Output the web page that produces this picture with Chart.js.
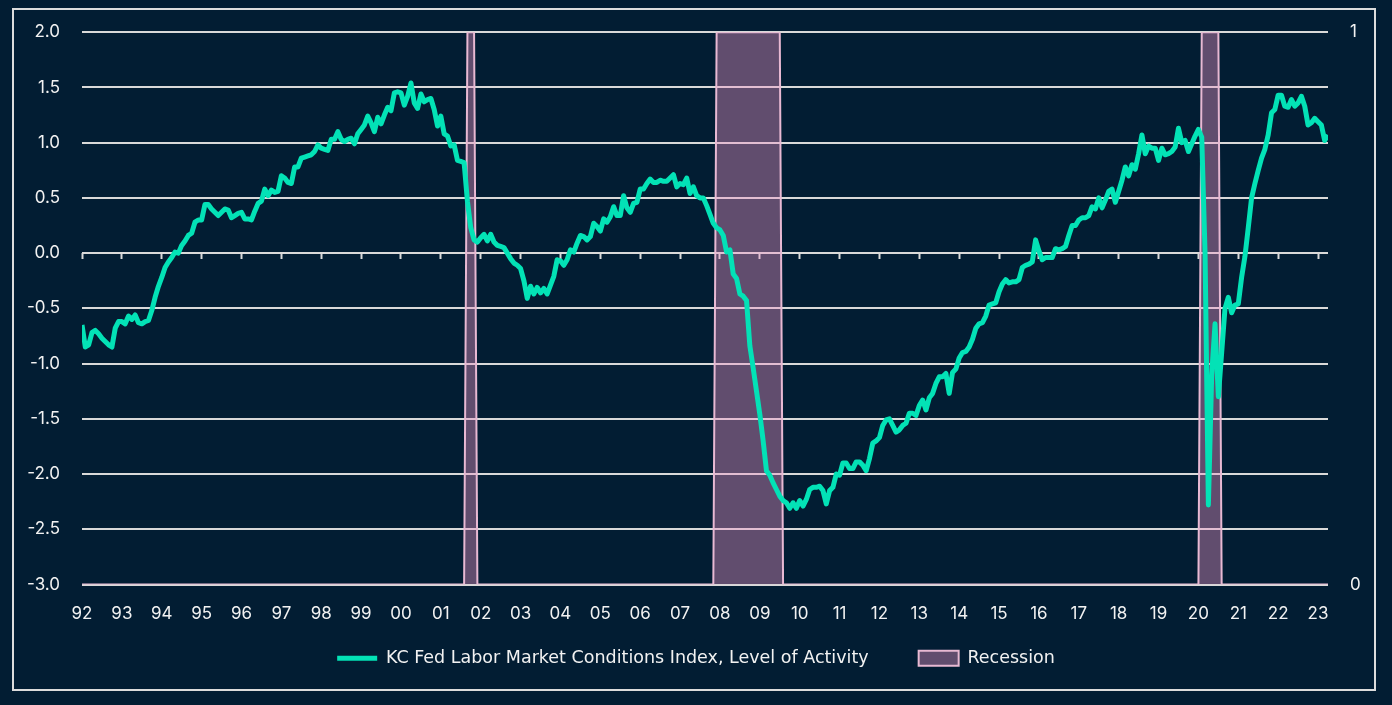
<!DOCTYPE html>
<html>
<head>
<meta charset="utf-8">
<script src="https://cdn.jsdelivr.net/npm/chart.js@4.4.1/dist/chart.umd.min.js"></script>
<style>
  html, body { margin: 0; padding: 0; background: #021d33; }
  #frame {
    position: absolute; left: 12px; top: 8px; width: 1360px; height: 679px;
    border: 2px solid #dcdcdc;
  }
  #wrap { position: absolute; left: 0; top: 0; width: 1392px; height: 705px; }
</style>
</head>
<body>
<div id="frame"></div>
<div id="wrap"><canvas id="lmciChart" width="1392" height="705"></canvas></div>
<script>
// 月次データ: 1992年1月から2023年4月まで
const startYear = 1992;
const lmciValues = [
  -0.65, -0.85, -0.83, -0.72, -0.70, -0.73, -0.77, -0.80, -0.83, -0.85, -0.68, -0.62, // 1992
  -0.62, -0.64, -0.57, -0.60, -0.56, -0.63, -0.64, -0.62, -0.61, -0.52, -0.40, -0.30, // 1993
  -0.22, -0.13, -0.08, -0.04, 0.01, 0.00, 0.07, 0.11, 0.16, 0.18, 0.28, 0.30,         // 1994
  0.30, 0.44, 0.44, 0.40, 0.37, 0.34, 0.37, 0.40, 0.39, 0.32, 0.34, 0.36,             // 1995
  0.37, 0.31, 0.31, 0.30, 0.38, 0.45, 0.47, 0.58, 0.52, 0.57, 0.55, 0.56,             // 1996
  0.70, 0.68, 0.64, 0.63, 0.78, 0.78, 0.86, 0.87, 0.88, 0.89, 0.92, 0.98,             // 1997
  0.95, 0.94, 0.93, 1.03, 1.03, 1.10, 1.03, 1.01, 1.03, 1.04, 0.99, 1.08,             // 1998
  1.12, 1.16, 1.24, 1.18, 1.10, 1.23, 1.17, 1.25, 1.32, 1.29, 1.45, 1.46,             // 1999
  1.45, 1.34, 1.42, 1.54, 1.36, 1.31, 1.44, 1.37, 1.39, 1.40, 1.30, 1.15,             // 2000
  1.24, 1.08, 1.06, 0.97, 0.98, 0.84, 0.83, 0.82, 0.47, 0.23, 0.12, 0.10,             // 2001
  0.14, 0.17, 0.11, 0.17, 0.10, 0.07, 0.06, 0.05, 0.00, -0.05, -0.09, -0.11,          // 2002
  -0.14, -0.25, -0.41, -0.30, -0.37, -0.31, -0.36, -0.32, -0.37, -0.29, -0.21, -0.06, // 2003
  -0.07, -0.11, -0.06, 0.03, 0.01, 0.09, 0.16, 0.15, 0.12, 0.15, 0.27, 0.24,          // 2004
  0.20, 0.31, 0.28, 0.33, 0.42, 0.34, 0.34, 0.52, 0.41, 0.37, 0.45, 0.46,             // 2005
  0.58, 0.58, 0.63, 0.67, 0.64, 0.64, 0.66, 0.65, 0.65, 0.68, 0.71, 0.60,             // 2006
  0.63, 0.62, 0.68, 0.54, 0.60, 0.52, 0.50, 0.50, 0.43, 0.35, 0.27, 0.23,             // 2007
  0.21, 0.16, 0.01, 0.03, -0.19, -0.23, -0.37, -0.39, -0.43, -0.84, -1.04, -1.25,     // 2008
  -1.46, -1.70, -1.97, -2.01, -2.08, -2.14, -2.20, -2.24, -2.26, -2.31, -2.26, -2.31, // 2009
  -2.24, -2.29, -2.23, -2.14, -2.12, -2.12, -2.11, -2.15, -2.27, -2.15, -2.12, -2.00, // 2010
  -2.01, -1.90, -1.90, -1.95, -1.95, -1.89, -1.89, -1.92, -1.97, -1.86, -1.72, -1.70, // 2011
  -1.67, -1.56, -1.51, -1.50, -1.56, -1.62, -1.60, -1.56, -1.54, -1.45, -1.45, -1.47, // 2012
  -1.38, -1.33, -1.42, -1.31, -1.27, -1.18, -1.12, -1.12, -1.09, -1.27, -1.08, -1.05, // 2013
  -0.95, -0.90, -0.89, -0.85, -0.78, -0.68, -0.64, -0.63, -0.57, -0.47, -0.46, -0.45, // 2014
  -0.35, -0.28, -0.24, -0.27, -0.26, -0.26, -0.24, -0.13, -0.11, -0.10, -0.08, 0.12,  // 2015
  0.02, -0.06, -0.04, -0.04, -0.04, 0.04, 0.03, 0.04, 0.06, 0.16, 0.25, 0.25,         // 2016
  0.30, 0.32, 0.32, 0.34, 0.42, 0.40, 0.50, 0.41, 0.48, 0.56, 0.58, 0.46,             // 2017
  0.56, 0.66, 0.78, 0.70, 0.80, 0.76, 0.90, 1.07, 0.90, 0.97, 0.95, 0.95,             // 2018
  0.84, 0.95, 0.89, 0.90, 0.92, 0.96, 1.13, 1.00, 1.02, 0.92, 0.99, 1.06,             // 2019
  1.12, 1.05, 0.00, -2.28, -1.10, -0.64, -1.30, -0.90, -0.50, -0.40, -0.54, -0.47,    // 2020
  -0.46, -0.22, -0.03, 0.23, 0.50, 0.63, 0.75, 0.86, 0.94, 1.07, 1.27, 1.30,          // 2021
  1.43, 1.43, 1.33, 1.32, 1.39, 1.33, 1.36, 1.42, 1.33, 1.16, 1.18, 1.22,             // 2022
  1.19, 1.16, 1.02, 1.07                                                              // 2023
];

// 景気後退期（1992年1月からの月数、0/1）
const recessionMonths = [0, 115, 116, 118, 119, 190, 191, 210, 211, 336, 337, 342, 343, 375];
const recessionFlags  = [0, 0, 1, 1, 0, 0, 1, 1, 0, 0, 1, 1, 0, 0];

// 横軸の目盛りラベル
const yearLabels = ["92", "93", "94", "95", "96", "97", "98", "99", "00", "01", "02",
  "03", "04", "05", "06", "07", "08", "09", "10", "11", "12", "13", "14", "15", "16",
  "17", "18", "19", "20", "21", "22", "23"];

const lmciPoints = lmciValues.map((v, i) => ({ x: startYear + i / 12, y: v }));
const recessionPoints = recessionMonths.map((m, i) => ({ x: startYear + m / 12, y: recessionFlags[i] }));
const xMax = startYear + (lmciValues.length - 1) / 12;

const gridColor = "#d9d9d9";
const textColor = "#f2f2f2";

Chart.defaults.font.family = "Inter, 'Open Sans', sans-serif";
Chart.defaults.color = textColor;

function yearTicks(scale) {
  scale.ticks = yearLabels.map((_, i) => ({ value: startYear + i }));
}

// 凡例を目盛りラベルの下に少し持ち上げる
const legendLift = {
  id: "legendLift",
  afterLayout(chart) {
    chart.legend.top -= 28;
    chart.legend.bottom -= 28;
  },
};

const chart = new Chart(document.getElementById("lmciChart"), {
  type: "line",
  data: {
    datasets: [
      {
        label: "KC Fed Labor Market Conditions Index, Level of Activity",
        data: lmciPoints,
        yAxisID: "y",
        borderColor: "#03e2b6",
        backgroundColor: "#03e2b6",
        borderWidth: 5,
        pointRadius: 0,
        pointStyle: "line",
        borderJoinStyle: "round",
        tension: 0,
      },
      {
        label: "Recession",
        data: recessionPoints,
        yAxisID: "y1",
        borderColor: "#e8b9d3",
        backgroundColor: "rgba(240, 150, 200, 0.4)",
        borderWidth: 2,
        pointRadius: 0,
        pointStyle: "rect",
        fill: "origin",
        tension: 0,
      },
    ],
  },
  options: {
    responsive: false,
    animation: false,
    layout: { padding: { top: 32, left: 0, right: 0, bottom: 0 } },
    scales: {
      x: {
        type: "linear",
        position: "bottom",
        min: startYear,
        max: xMax,
        afterBuildTicks: yearTicks,
        afterFit: (scale) => { scale.height = 43; },
        grid: { display: false, drawTicks: false },
        border: { display: false },
        ticks: {
          autoSkip: false,
          maxRotation: 0,
          padding: 19,
          font: { size: 17 },
          callback: (value, index) => yearLabels[index],
        },
      },
      xZero: {
        type: "linear",
        axis: "x",
        position: { y: 0 },
        min: startYear,
        max: xMax,
        afterBuildTicks: yearTicks,
        grid: { drawOnChartArea: false, drawTicks: true, tickLength: 6, tickWidth: 2, tickColor: gridColor },
        border: { display: false },
        ticks: { display: false },
      },
      y: {
        position: "left",
        min: -3,
        max: 2,
        afterFit: (scale) => { scale.width = 82; },
        grid: { color: gridColor, lineWidth: 2, drawTicks: false },
        border: { display: false },
        ticks: {
          stepSize: 0.5,
          padding: 22,
          font: { size: 17 },
          callback: (value) => value.toFixed(1),
        },
      },
      y1: {
        position: "right",
        min: 0,
        max: 1,
        afterFit: (scale) => { scale.width = 64; },
        grid: { drawOnChartArea: false, drawTicks: false },
        border: { display: false },
        ticks: { stepSize: 1, padding: 22, font: { size: 17 } },
      },
    },
    plugins: {
      legend: {
        position: "bottom",
        labels: {
          usePointStyle: true,
          pointStyleWidth: 40,
          boxHeight: 15,
          padding: 50,
          color: textColor,
          font: { family: "'DejaVu Sans', sans-serif", size: 17.5 },
        },
      },
      tooltip: { enabled: false },
    },
  },
  plugins: [legendLift],
});
</script>
</body>
</html>
